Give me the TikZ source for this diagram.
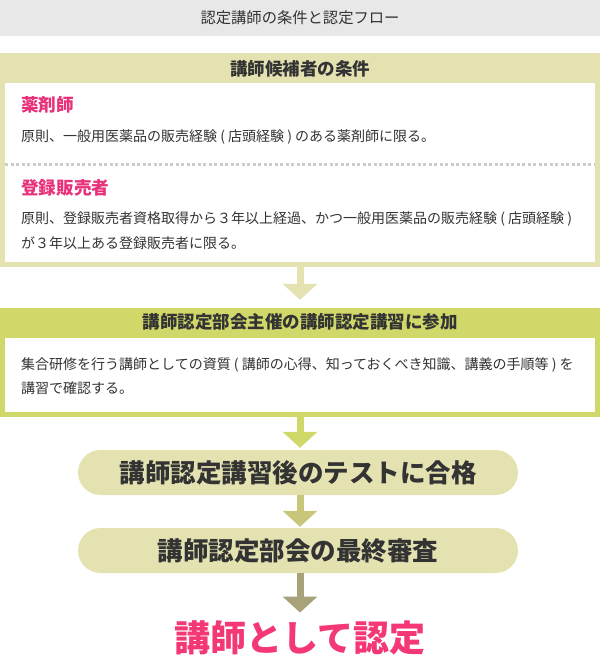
\documentclass[tikz,border=0pt]{standalone}
\usepackage{fontspec}
\setmainfont{Noto Sans CJK JP}
\definecolor{bargray}{RGB}{232,232,232}
\definecolor{textgray}{RGB}{51,51,51}
\definecolor{khaki}{RGB}{229,226,177}
\definecolor{limegreen}{RGB}{209,216,106}
\definecolor{dotolive}{RGB}{200,198,120}
\definecolor{darkolive}{RGB}{168,162,122}
\definecolor{pinkred}{RGB}{232,49,122}
\definecolor{hotpink}{RGB}{243,56,117}
\definecolor{dotgray}{RGB}{204,204,204}
\usepackage{tikz}
\usetikzlibrary{arrows.meta}

\begin{document}
\begin{tikzpicture}[x=1pt,y=-1pt,
    bodytext/.style={anchor=west,align=left,text=textgray,inner sep=0pt,font=\fontsize{14}{25}\selectfont},
    headtext/.style={text=textgray,inner sep=0pt,font=\bfseries\fontsize{17.5}{20}\selectfont},
    pinkhead/.style={anchor=west,text=pinkred,inner sep=0pt,font=\bfseries\fontsize{17.6}{20}\selectfont},
    pill/.style={fill=khaki,rounded corners=22.5pt,minimum width=440pt,minimum height=45pt,inner sep=0pt,text=textgray,font=\bfseries\fontsize{25.5}{28}\selectfont},
    flow/.style={line width=7pt,-{Triangle[width=34pt,length=16pt]}}]
                \useasboundingbox (0,0) rectangle (600,658);
                % title bar
                \fill[bargray] (0,0) rectangle (600,36);
                \node[text=textgray,font=\fontsize{15.3}{17}\selectfont] (title) at (300,18) {認定講師の条件と認定フロー};

                % candidate conditions
                \node[fill=khaki,minimum width=600pt,minimum height=214pt,inner sep=0pt] (cond) at (300,160) {};
                \fill[white] (5,83) rectangle (595,262);
                \node[headtext] (condhead) at (300,69) {講師候補者の条件};
                \node[pinkhead] (pharm) at (21,105) {薬剤師};
                \node[bodytext] (pharmtext) at (21,137) {原則、一般用医薬品の販売経験 ( 店頭経験 ) のある薬剤師に限る。};
                \draw[dotgray,line width=3pt,dash pattern=on 3pt off 2.5pt] (5,164) -- (595,164);
                \node[pinkhead] (seller) at (21,188) {登録販売者};
                \node[bodytext] (sellertext) at (21,230.5) {原則、登録販売者資格取得から３年以上経過、かつ一般用医薬品の販売経験 ( 店頭経験 )\\が３年以上ある登録販売者に限る。};

                % training course
                \node[fill=limegreen,minimum width=600pt,minimum height=109pt,inner sep=0pt] (course) at (300,362.5) {};
                \fill[white] (5,338) rectangle (595,412);
                \node[headtext] (coursehead) at (300,322) {講師認定部会主催の講師認定講習に参加};
                \node[bodytext,font=\fontsize{14}{24}\selectfont] (coursetext) at (21,376) {集合研修を行う講師としての資質 ( 講師の心得、知っておくべき知識、講義の手順等 ) を\\講習で確認する。};

                % test and review
                \node[pill] (test) at (298,472.5) {講師認定講習後のテストに合格};
                \node[pill] (review) at (298,550.5) {講師認定部会の最終審査};
                \node[text=hotpink,inner sep=0pt,font=\bfseries\fontsize{36}{38}\selectfont] (final) at (300,638) {講師として認定};

                \draw[flow,khaki,shorten >=8pt] (cond.south) -- (course.north);
                \draw[flow,limegreen,shorten >=2pt] (course.south) -- (test.north -| course.south);
                \draw[flow,dotolive,shorten >=1pt] (test.south -| course.south) -- (review.north -| course.south);
                \draw[flow,darkolive,shorten >=8pt] (review.south -| course.south) -- (final.north);
            \end{tikzpicture}
\end{document}
